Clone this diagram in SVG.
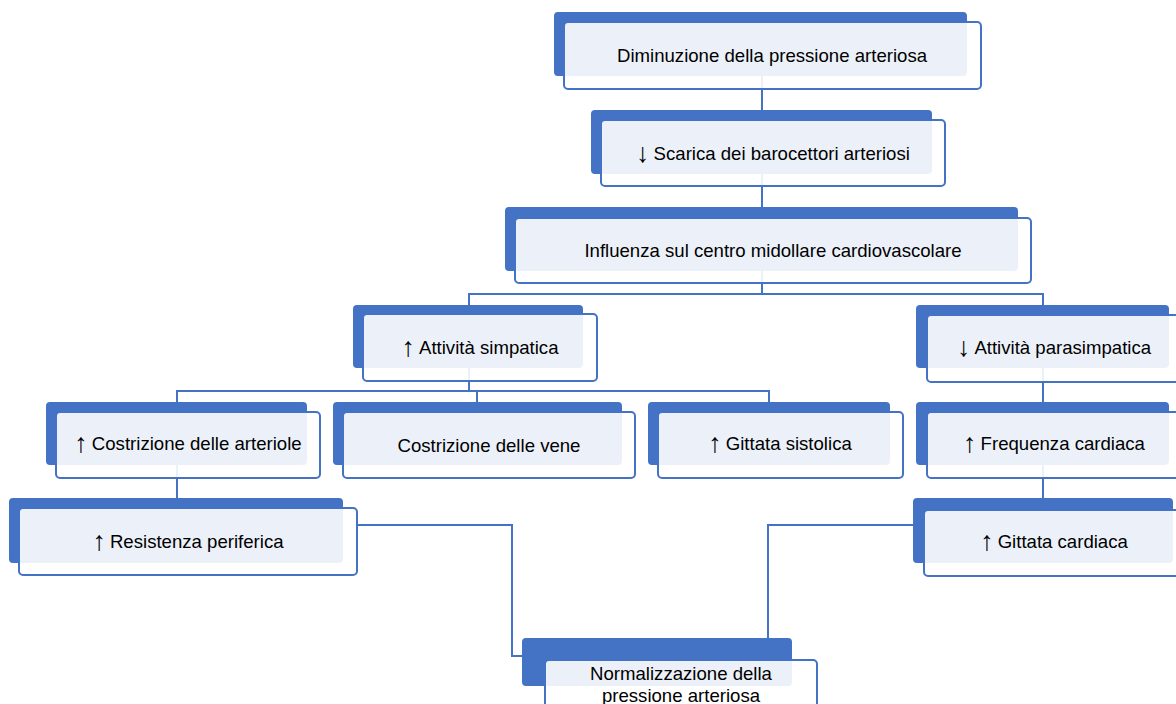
<svg xmlns="http://www.w3.org/2000/svg" width="1176" height="704" viewBox="0 0 1176 704">
<style>
.bk{fill:#4472c4}
.fr{fill:#ffffff;fill-opacity:0.9;stroke:#4472c4;stroke-width:2}
.t{font-family:"Liberation Sans","DejaVu Sans",Arial,sans-serif;font-size:18.6px;fill:#000;text-anchor:middle;dominant-baseline:central}
.a{font-size:27px}
.c{fill:none;stroke:#4472c4;stroke-width:2}
</style>
<rect width="1176" height="704" fill="#ffffff"/>
<g id="connectors">
<path class="c" d="M762,76 V110"/>
<path class="c" d="M762,174 V207"/>
<path class="c" d="M762,271 V294"/>
<path class="c" d="M469,305 V294 H1043 V305"/>
<path class="c" d="M469,368 V391"/>
<path class="c" d="M177,402 V391 H769 V402"/>
<path class="c" d="M477,391 V402"/>
<path class="c" d="M1043,368 V402"/>
<path class="c" d="M1043,465 V498"/>
<path class="c" d="M177,465 V498"/>
<path class="c" d="M357,525 H512 V656 H522"/>
<path class="c" d="M913,525 H768 V638"/>
</g>
<g id="n1">
<rect class="bk" x="554" y="12" width="413" height="64" rx="4"/>
<rect class="fr" x="564" y="22" width="417" height="67" rx="4"/>
<text class="t" x="772" y="55">Diminuzione della pressione arteriosa</text>
</g>
<g id="n2">
<rect class="bk" x="591" y="110" width="341" height="64" rx="4"/>
<rect class="fr" x="601" y="120" width="344" height="66" rx="4"/>
<text class="t" x="773" y="153"><tspan class="a">↓</tspan><tspan dx="4">Scarica dei barocettori arteriosi</tspan></text>
</g>
<g id="n3">
<rect class="bk" x="505" y="207" width="513" height="64" rx="4"/>
<rect class="fr" x="515" y="218" width="516" height="65" rx="4"/>
<text class="t" x="773" y="250">Influenza sul centro midollare cardiovascolare</text>
</g>
<g id="n4">
<rect class="bk" x="353" y="305" width="230" height="63" rx="4"/>
<rect class="fr" x="363" y="314" width="234" height="67" rx="4"/>
<text class="t" x="480" y="347"><tspan class="a">↑</tspan><tspan dx="4">Attività simpatica</tspan></text>
</g>
<g id="n5">
<rect class="bk" x="916" y="305" width="253" height="63" rx="4"/>
<rect class="fr" x="927" y="315" width="256" height="67" rx="4"/>
<text class="t" x="1054" y="347"><tspan class="a">↓</tspan><tspan dx="4">Attività parasimpatica</tspan></text>
</g>
<g id="n6">
<rect class="bk" x="46" y="402" width="261" height="63" rx="4"/>
<rect class="fr" x="56" y="412" width="264" height="66" rx="4"/>
<text class="t" x="188" y="443"><tspan class="a">↑</tspan><tspan dx="4">Costrizione delle arteriole</tspan></text>
</g>
<g id="n7">
<rect class="bk" x="333" y="402" width="289" height="63" rx="4"/>
<rect class="fr" x="343" y="412" width="292" height="66" rx="4"/>
<text class="t" x="489" y="445">Costrizione delle vene</text>
</g>
<g id="n8">
<rect class="bk" x="648" y="402" width="242" height="63" rx="4"/>
<rect class="fr" x="658" y="412" width="245" height="66" rx="4"/>
<text class="t" x="780" y="443"><tspan class="a">↑</tspan><tspan dx="4">Gittata sistolica</tspan></text>
</g>
<g id="n9">
<rect class="bk" x="916" y="402" width="253" height="63" rx="4"/>
<rect class="fr" x="927" y="412" width="256" height="66" rx="4"/>
<text class="t" x="1054" y="443"><tspan class="a">↑</tspan><tspan dx="4">Frequenza cardiaca</tspan></text>
</g>
<g id="n10">
<rect class="bk" x="9" y="498" width="334" height="65" rx="4"/>
<rect class="fr" x="19" y="508" width="338" height="67" rx="4"/>
<text class="t" x="188" y="541"><tspan class="a">↑</tspan><tspan dx="4">Resistenza periferica</tspan></text>
</g>
<g id="n11">
<rect class="bk" x="913" y="498" width="260" height="65" rx="4"/>
<rect class="fr" x="924" y="510" width="262" height="66" rx="4"/>
<text class="t" x="1054" y="541"><tspan class="a">↑</tspan><tspan dx="4">Gittata cardiaca</tspan></text>
</g>
<g id="n12">
<rect class="bk" x="522" y="638" width="270" height="48" rx="4"/>
<rect class="fr" x="545" y="660" width="272" height="60" rx="4"/>
<text class="t" x="681" y="673">Normalizzazione della</text>
<text class="t" x="681" y="695">pressione arteriosa</text>
</g>
</svg>
